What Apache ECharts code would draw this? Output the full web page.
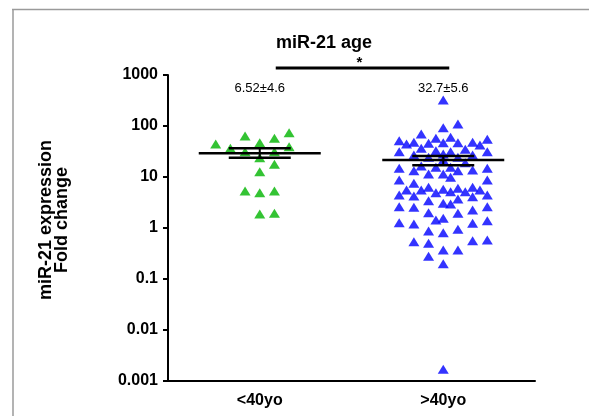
<!DOCTYPE html>
<html>
<head>
<meta charset="utf-8">
<script src="https://cdn.jsdelivr.net/npm/echarts@6/dist/echarts.min.js"></script>
<style>
  html, body { margin: 0; padding: 0; background: #fff; }
  #chart { width: 589px; height: 416px; }
</style>
</head>
<body>
<div id="chart"></div>
<script>
// Groups and summary annotations
const categories = ['<40yo', '>40yo'];
const chartTitle = 'miR-21 age';
const yAxisTitle = 'miR-21 expression\nFold change';
const yTickLabels = ['0.001', '0.01', '0.1', '1', '10', '100', '1000'];
const groupLabels = ['6.52±4.6', '32.7±5.6'];
const significance = '*';

// Fold change per sample, <40yo
const youngValues = [44.4, 36.5, 63.7, 47.1, 57.4, 73.9, 39.3, 31.3, 23.9, 31.3,
                     17.7, 12.7, 5.3, 4.9, 5.3, 1.88, 1.94];
// column slot of each sample within the swarm
const youngSlots = [-6, -4, -2, 0, 2, 4, 4, -2, 0, 2,
                    2, 0, -2, 0, 2, 0, 2];

// Fold change per sample, >40yo
const olderValues = [
  51.5, 31.3, 14.8, 8.73, 4.44, 2.62, 1.27,
  44.4, 5.56,
  47.9, 27.0, 13.3, 7.52, 4.24, 2.55, 1.20, 0.54,
  69.7, 36.5, 16.4, 5.56,
  45.8, 24.3, 11.5, 6.28, 3.43, 2.0, 0.87, 0.50, 0.28,
  57.4, 32.8, 15.5, 4.92, 1.44,
  323, 92.6, 47.1, 28.2, 21.5, 11.5, 5.74, 3.05, 1.55, 0.81, 0.37, 0.20, 0.0017,
  60.0, 31.3, 15.5, 9.86, 5.15, 2.96,
  109, 47.1, 24.3, 13.3, 6.0, 3.70, 1.94, 0.94, 0.37,
  34.9, 19.1, 5.15,
  47.9, 27.0, 13.7, 6.28, 4.11, 2.25, 1.24, 0.56,
  42.4, 5.56,
  54.8, 31.3, 14.8, 8.73, 4.44, 2.62, 1.39, 0.58
];
const olderSlots = [
  -6, -6, -6, -6, -6, -6, -6,
  -5, -5,
  -4, -4, -4, -4, -4, -4, -4, -4,
  -3, -3, -3, -3,
  -2, -2, -2, -2, -2, -2, -2, -2, -2,
  -1, -1, -1, -1, -1,
  0, 0, 0, 0, 0, 0, 0, 0, 0, 0, 0, 0, 0,
  1, 1, 1, 1, 1, 1,
  2, 2, 2, 2, 2, 2, 2, 2, 2,
  3, 3, 3,
  4, 4, 4, 4, 4, 4, 4, 4,
  5, 5,
  6, 6, 6, 6, 6, 6, 6, 6
];

// Centre line and error bar ends per group
const groupCentre = [29.1, 21.5];
const groupUpper = [36.5, 25.8];
const groupLower = [23.9, 17.0];

const SLOT_STEP = 0.04;
const FONT = 'Liberation Sans, Arial, Helvetica, sans-serif';

function swarm(values, slots, groupIndex) {
  return values.map((v, i) => [groupIndex + 0.5 + slots[i] * SLOT_STEP, v]);
}

const chart = echarts.init(document.getElementById('chart'), null, { renderer: 'canvas' });

const option = {
  backgroundColor: '#ffffff',
  animation: false,
  title: {
    text: chartTitle,
    left: 319,
    top: 29,
    textAlign: 'center',
    textStyle: { fontFamily: FONT, fontSize: 18, fontWeight: 'bold', color: '#000' }
  },
  graphic: [
    { type: 'line', shape: { x1: 12, y1: 9.5, x2: 589, y2: 9.5 }, style: { stroke: '#9a9a9a', lineWidth: 1.5 } },
    { type: 'line', shape: { x1: 13, y1: 9, x2: 13, y2: 416 }, style: { stroke: '#9a9a9a', lineWidth: 1.5 } }
  ],
  grid: { left: 168, right: 54, top: 75, bottom: 35 },
  xAxis: [
    {
      type: 'category',
      data: categories,
      boundaryGap: true,
      axisLine: { lineStyle: { color: '#000', width: 2 } },
      axisTick: { alignWithLabel: true, length: 5, lineStyle: { color: '#000', width: 2 } },
      axisLabel: { fontFamily: FONT, fontSize: 16, fontWeight: 'bold', color: '#000', margin: 12 },
      splitLine: { show: false }
    },
    { type: 'value', min: 0, max: 2, show: false }
  ],
  yAxis: {
    type: 'log',
    logBase: 10,
    min: 0.001,
    max: 1000,
    name: yAxisTitle,
    nameLocation: 'middle',
    nameGap: 98,
    nameTextStyle: {
      fontFamily: FONT, fontSize: 18, fontWeight: 'bold', color: '#000',
      lineHeight: 16, padding: [0, 0, 0, 16]
    },
    axisLine: { show: true, lineStyle: { color: '#000', width: 2 } },
    axisTick: { show: true, length: 5, lineStyle: { color: '#000', width: 2 } },
    axisLabel: {
      fontFamily: FONT, fontSize: 16, fontWeight: 'bold', color: '#000', margin: 10,
      formatter: function (v) {
        const e = Math.round(Math.log10(v));
        return yTickLabels[e + 3];
      }
    },
    splitLine: { show: false }
  },
  series: [
    {
      type: 'scatter',
      xAxisIndex: 1,
      symbol: 'triangle',
      symbolSize: [11, 9],
      itemStyle: { color: '#00b400' },
      data: swarm(youngValues, youngSlots, 0),
      z: 2
    },
    {
      type: 'scatter',
      xAxisIndex: 1,
      symbol: 'triangle',
      symbolSize: [11, 9],
      itemStyle: { color: '#0000ff' },
      data: swarm(olderValues, olderSlots, 1),
      z: 2
    },
    {
      // centre line with error bar per group
      type: 'custom',
      xAxisIndex: 1,
      z: 5,
      data: categories.map((c, i) => [i + 0.5, groupCentre[i], groupUpper[i], groupLower[i]]),
      renderItem: function (params, api) {
        const x = api.value(0);
        const pm = api.coord([x, api.value(1)]);
        const pu = api.coord([x, api.value(2)]);
        const pl = api.coord([x, api.value(3)]);
        const stroke = { stroke: '#000', lineWidth: 2.5 };
        return {
          type: 'group',
          children: [
            { type: 'line', shape: { x1: pm[0] - 61, y1: pm[1], x2: pm[0] + 61, y2: pm[1] }, style: stroke },
            { type: 'line', shape: { x1: pu[0] - 31, y1: pu[1], x2: pu[0] + 31, y2: pu[1] }, style: stroke },
            { type: 'line', shape: { x1: pl[0] - 31, y1: pl[1], x2: pl[0] + 31, y2: pl[1] }, style: stroke },
            { type: 'line', shape: { x1: pu[0], y1: pu[1], x2: pl[0], y2: pl[1] }, style: { stroke: '#000', lineWidth: 2 } }
          ]
        };
      }
    },
    {
      // group summary text above each swarm
      type: 'custom',
      xAxisIndex: 1,
      z: 5,
      data: categories.map((c, i) => [i + 0.5, 1000]),
      renderItem: function (params, api) {
        const p = api.coord([api.value(0), api.value(1)]);
        return {
          type: 'text',
          x: p[0],
          y: p[1] + 13,
          style: {
            text: groupLabels[params.dataIndex],
            fontFamily: FONT, fontSize: 13, fill: '#000',
            align: 'center', verticalAlign: 'middle'
          }
        };
      }
    },
    {
      // significance bracket between the groups
      type: 'custom',
      xAxisIndex: 1,
      z: 5,
      data: [[0.5, 1.5, 1000]],
      renderItem: function (params, api) {
        const a = api.coord([api.value(0), api.value(2)]);
        const b = api.coord([api.value(1), api.value(2)]);
        const x1 = a[0] + 16, x2 = b[0] + 6, y = a[1] - 7;
        return {
          type: 'group',
          children: [
            { type: 'line', shape: { x1: x1, y1: y, x2: x2, y2: y }, style: { stroke: '#000', lineWidth: 3 } },
            {
              type: 'text', x: (x1 + x2) / 2 - 3, y: y - 5,
              style: { text: significance, fontFamily: FONT, fontSize: 15, fontWeight: 'bold', fill: '#000', align: 'center', verticalAlign: 'middle' }
            }
          ]
        };
      }
    }
  ]
};

chart.setOption(option);
</script>
</body>
</html>
